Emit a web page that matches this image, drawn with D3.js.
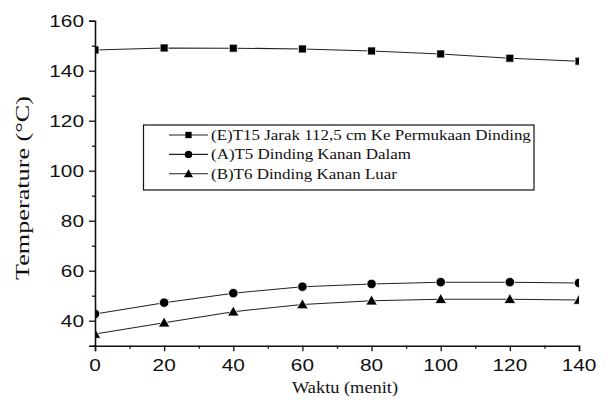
<!DOCTYPE html>
<html>
<head>
<meta charset="utf-8">
<script src="https://cdn.jsdelivr.net/npm/d3@7"></script>
<style>
  html, body { margin: 0; padding: 0; background: #fff; }
  svg { display: block; }
</style>
</head>
<body>
<svg id="chart" width="606" height="407"></svg>
<script>
// Time (minutes) at which each temperature was logged
const waktu = [0, 20, 40, 60, 80, 100, 120, 140];

// Temperature readings (°C) for each sensor
const t15Jarak = [148.3, 149.1, 149.0, 148.7, 147.9, 146.7, 145.0, 143.8];
const t5Dalam  = [42.7, 47.2, 51.0, 53.6, 54.7, 55.4, 55.4, 55.1];
const t6Luar   = [34.7, 39.2, 43.6, 46.5, 48.0, 48.6, 48.6, 48.3];

const seriesNames = [
  "(E)T15 Jarak 112,5 cm Ke Permukaan Dinding",
  "(A)T5 Dinding  Kanan Dalam",
  "(B)T6 Dinding Kanan Luar"
];
const seriesSymbols = ["square", "circle", "triangle"];

const xTicks = [0, 20, 40, 60, 80, 100, 120, 140];
const xMinorTicks = [10, 30, 50, 70, 90, 110, 130];
const yTicks = [40, 60, 80, 100, 120, 140, 160];
const yMinorTicks = [30, 50, 70, 90, 110, 130, 150];

const xLabel = "Waktu (menit)";
const yLabel = "Temperature (\u00B0C)";

const SANS = "Liberation Sans";
const SERIF = "Liberation Serif";

const series = [t15Jarak, t5Dalam, t6Luar].map((vals, i) => ({
  name: seriesNames[i],
  symbol: seriesSymbols[i],
  points: waktu.map((t, j) => ({ t, v: vals[j] }))
}));

const svg = d3.select("#chart");
const plot = { left: 95, right: 579, top: 20.7, bottom: 345.7 };

const x = d3.scaleLinear().domain([0, 140]).range([plot.left, plot.right]);
const y = d3.scaleLinear().domain([30, 160]).range([plot.bottom, plot.top]);

const symbolType = { square: d3.symbolSquare, circle: d3.symbolCircle, triangle: d3.symbolTriangle };
const symbolSize = { square: 64, circle: 70, triangle: 58 };

// Clip data marks to the plotting area
svg.append("defs").append("clipPath").attr("id", "plot-clip")
  .append("rect")
  .attr("x", plot.left).attr("y", plot.top - 10)
  .attr("width", plot.right - plot.left).attr("height", plot.bottom - plot.top + 10);

const marks = svg.append("g").attr("clip-path", "url(#plot-clip)");
const line = d3.line().x(d => x(d.t)).y(d => y(d.v));

series.forEach(s => {
  marks.append("path")
    .datum(s.points)
    .attr("d", line)
    .attr("fill", "none")
    .attr("stroke", "#222")
    .attr("stroke-width", 1.1);
  marks.selectAll(null)
    .data(s.points)
    .join("path")
    .attr("transform", d => `translate(${x(d.t)},${y(d.v) + (s.symbol === "triangle" ? 1 : 0)})`)
    .attr("d", d3.symbol().type(symbolType[s.symbol]).size(symbolSize[s.symbol]))
    .attr("fill", "#000")
    .attr("stroke", "#fff")
    .attr("stroke-width", 0.8);
});

// Axes (left and bottom only, outward ticks with minor ticks)
const xAxis = svg.append("g").attr("transform", `translate(0,${plot.bottom})`);
xAxis.call(d3.axisBottom(x).tickValues(xTicks).tickSize(5.5).tickFormat(""));
xAxis.append("g").call(d3.axisBottom(x).tickValues(xMinorTicks).tickSize(3).tickFormat(""))
  .select(".domain").remove();

const yAxis = svg.append("g").attr("transform", `translate(${plot.left},0)`);
yAxis.call(d3.axisLeft(y).tickValues(yTicks).tickSize(6).tickFormat(""));
yAxis.append("g").call(d3.axisLeft(y).tickValues(yMinorTicks).tickSize(3).tickFormat(""))
  .select(".domain").remove();

svg.selectAll(".domain").attr("stroke", "#111").attr("stroke-width", 1.6);
svg.selectAll(".tick line").attr("stroke", "#111").attr("stroke-width", 1.3);

// Tick labels, set slightly wide
xTicks.forEach(t => {
  svg.append("text")
    .attr("font-family", SANS).attr("font-size", 16).attr("fill", "#111")
    .attr("text-anchor", "middle")
    .attr("transform", `translate(${x(t)},${plot.bottom + 25}) scale(1.3,1)`)
    .text(t);
});
yTicks.forEach(v => {
  svg.append("text")
    .attr("font-family", SANS).attr("font-size", 16).attr("fill", "#111")
    .attr("text-anchor", "end")
    .attr("transform", `translate(${plot.left - 11},${y(v) + 6}) scale(1.3,1)`)
    .text(v);
});

// Axis titles
svg.append("text")
  .attr("font-family", SERIF).attr("font-size", 17).attr("fill", "#111")
  .attr("text-anchor", "middle")
  .attr("transform", `translate(${(plot.left + plot.right) / 2 + 8},${plot.bottom + 47}) scale(1.08,1)`)
  .text(xLabel);

svg.append("text")
  .attr("font-family", SERIF).attr("font-size", 19).attr("fill", "#111")
  .attr("text-anchor", "middle")
  .attr("transform", `translate(29,188) rotate(-90) scale(1.38,1)`)
  .text(yLabel);

// Legend
const legend = svg.append("g");
legend.append("rect")
  .attr("x", 143.5).attr("y", 125)
  .attr("width", 390.5).attr("height", 65)
  .attr("fill", "#fff").attr("stroke", "#111").attr("stroke-width", 1.2);

series.forEach((s, i) => {
  const ry = 135 + i * 19.4;
  legend.append("line")
    .attr("x1", 169).attr("x2", 208).attr("y1", ry).attr("y2", ry)
    .attr("stroke", "#222").attr("stroke-width", 1.1);
  legend.append("path")
    .attr("transform", `translate(188.5,${ry + (s.symbol === "triangle" ? 0.8 : 0)})`)
    .attr("d", d3.symbol().type(symbolType[s.symbol]).size(symbolSize[s.symbol] * 0.62))
    .attr("fill", "#000");
  legend.append("text")
    .attr("font-family", SERIF).attr("font-size", 15).attr("fill", "#111")
    .attr("transform", `translate(211,${ry + 5}) scale(1.13,1)`)
    .text(s.name);
});
</script>
</body>
</html>
